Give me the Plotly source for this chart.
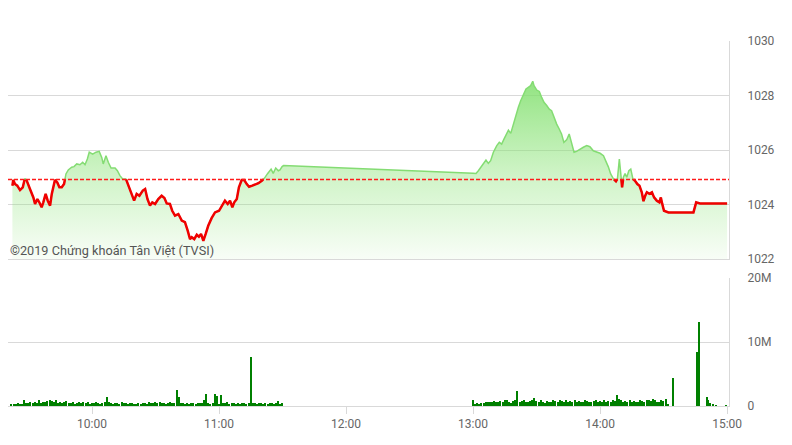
import plotly.graph_objects as go
import pandas as pd

DAY = "2019-01-02"
REF_PRICE = 1024.92

# Intraday index (minutes after 09:00, index value)
price_minutes = [
    22.4, 22.8, 23.6, 24.7, 26.0, 27.3, 28.3, 29.2, 30.7, 32.3,
    33.1, 34.2, 35.1, 36.2, 37.0, 38.1, 39.1, 40.2, 41.0, 42.5,
    43.6, 44.6, 45.7, 46.8, 47.7, 48.8, 50.4, 51.5, 52.8, 54.3,
    55.6, 56.7, 57.8, 58.7, 60.3, 61.9, 63.4, 64.6, 65.3, 66.6,
    67.7, 69.0, 70.9, 72.0, 73.2, 74.5, 76.0, 77.6, 78.8, 79.9,
    81.1, 82.4, 84.0, 85.1, 86.2, 87.4, 88.5, 89.8, 91.3, 92.9,
    94.2, 95.3, 96.8, 97.9, 99.2, 100.8, 102.4, 103.9, 105.2, 106.3,
    107.1, 108.3, 109.5, 110.5, 111.5, 112.6, 113.7, 114.9, 116.5, 118.1,
    120.0, 121.3, 122.8, 124.1, 125.2, 126.3, 127.2, 128.4, 129.4, 130.7,
    131.9, 133.1, 134.2, 135.7, 137.0, 138.6, 140.2, 141.4, 143.0, 144.6,
    145.6, 146.8, 148.0, 148.8, 149.8, 150.5,
    240.0, 241.4, 242.5, 244.1, 245.2, 246.1, 247.2, 248.3, 249.6, 251.2,
    252.4, 253.5, 254.6, 255.6, 256.7, 257.8, 259.0, 260.3, 261.4, 262.5,
    263.7, 265.0, 266.1, 267.2, 268.2, 268.8, 270.1, 271.3, 272.4, 273.5,
    274.8, 276.0, 277.1, 278.2, 279.5, 280.7, 281.8, 282.9, 284.2, 285.4,
    286.6, 287.7, 288.9, 290.5, 292.1, 293.7, 295.2, 296.8, 298.4, 300.0,
    301.6, 302.8, 303.9, 305.0, 306.3, 307.5, 308.2, 309.1, 309.8, 310.4,
    311.0, 311.8, 312.6, 313.6, 314.5, 315.5, 316.5, 317.6, 318.6, 319.7,
    320.5, 321.3, 322.1, 323.3, 324.5, 325.5, 326.8, 328.0, 328.7, 329.3,
    330.2, 332.3, 344.1, 345.4, 347.2, 360.0,
]
price_values = [
    1024.69, 1024.90, 1024.75, 1024.69, 1024.53, 1024.63, 1024.96, 1024.87, 1024.57, 1024.26,
    1024.02, 1024.20, 1024.08, 1023.90, 1024.08, 1024.39, 1024.14, 1023.96, 1024.39, 1024.90,
    1024.81, 1024.63, 1024.63, 1024.75, 1025.12, 1025.27, 1025.37, 1025.39, 1025.49, 1025.46,
    1025.55, 1025.46, 1025.67, 1025.92, 1025.85, 1025.92, 1025.95, 1025.73, 1025.49, 1025.79,
    1025.55, 1025.34, 1025.34, 1025.24, 1025.06, 1024.94, 1024.94, 1024.63, 1024.39, 1024.14,
    1024.39, 1024.32, 1024.51, 1024.57, 1024.20, 1023.96, 1024.08, 1024.02, 1024.20, 1024.32,
    1024.24, 1024.04, 1024.02, 1023.77, 1023.59, 1023.65, 1023.41, 1023.35, 1023.04, 1022.73,
    1022.80, 1022.73, 1022.89, 1022.82, 1022.92, 1022.67, 1022.92, 1023.22, 1023.50, 1023.71,
    1023.77, 1023.96, 1024.14, 1024.02, 1024.14, 1023.90, 1024.08, 1024.20, 1024.63, 1024.90,
    1024.90, 1024.75, 1024.65, 1024.69, 1024.73, 1024.78, 1024.87, 1024.96, 1025.14, 1025.30,
    1025.14, 1025.34, 1025.24, 1025.27, 1025.39, 1025.43,
    1025.15, 1025.14, 1025.24, 1025.42, 1025.55, 1025.63, 1025.51, 1025.61, 1025.92, 1026.16,
    1026.28, 1026.22, 1026.40, 1026.59, 1026.73, 1026.61, 1026.95, 1027.32, 1027.57, 1027.81,
    1028.03, 1028.24, 1028.30, 1028.36, 1028.52, 1028.36, 1028.20, 1028.15, 1027.93, 1027.75,
    1027.63, 1027.50, 1027.44, 1027.20, 1026.95, 1026.77, 1026.59, 1026.28, 1026.37, 1026.59,
    1026.22, 1025.92, 1025.95, 1026.04, 1026.10, 1026.16, 1026.12, 1025.97, 1025.92, 1025.88,
    1025.79, 1025.60, 1025.38, 1025.12, 1024.94, 1024.85, 1024.94, 1025.67, 1025.12, 1024.63,
    1025.00, 1025.14, 1025.00, 1025.24, 1025.30, 1024.94, 1024.87, 1024.75, 1024.69, 1024.45,
    1024.12, 1024.32, 1024.45, 1024.39, 1024.45, 1024.26, 1024.14, 1024.08, 1024.26, 1024.04,
    1023.77, 1023.71, 1023.71, 1024.08, 1024.04, 1024.04,
]

# Volume (millions of shares) per minute
vol_morning_start = "09:22"
vol_morning = [
    0.3, 0.25, 0.3, 0.4, 0.3, 0.35, 0.9, 0.5, 0.4, 0.6,
    0.5, 0.7, 0.4, 0.9, 0.5, 0.6, 0.7, 0.8, 0.9, 0.8,
    0.6, 0.9, 0.5, 0.7, 0.4, 0.6, 0.8, 0.5, 0.4, 0.6,
    0.3, 0.5, 0.6, 0.4, 0.7, 0.5, 0.6, 0.3, 0.5, 0.4,
    0.6, 0.5, 0.3, 0.5, 0.6, 1.4, 0.6, 0.4, 0.3, 0.4,
    0.5, 0.3, 0.6, 0.5, 0.4, 0.3, 0.4, 0.5, 0.3, 0.25,
    0.4, 0.3, 0.5, 0.4, 0.3, 0.6, 0.4, 0.5, 0.7, 0.5,
    0.6, 0.4, 0.5, 0.3, 0.4, 0.6, 0.5, 0.4, 2.5, 1.4,
    0.4, 0.5, 0.3, 0.4, 0.3, 0.5, 0.4, 0.3, 0.4, 0.5,
    0.4, 1.0, 1.8, 0.4, 0.3, 0.4, 1.9, 1.6, 0.3, 1.7,
    0.5, 0.4, 0.6, 0.3, 0.4, 0.5, 0.3, 0.4, 0.3, 0.5,
    0.4, 0.3, 0.4, 7.7, 0.5, 0.4, 0.3, 0.4, 0.5, 0.3,
    0.4, 0.3, 0.5, 0.4, 0.3, 0.4, 0.8, 0.3, 0.4,
]
vol_afternoon_start = "13:00"
vol_afternoon = [
    0.9, 0.3, 0.4, 0.3, 0.5, 0.4, 0.6, 0.7, 0.6, 0.7,
    0.8, 0.7, 0.6, 0.8, 0.7, 0.9, 1.0, 0.6, 0.5, 0.8,
    1.0, 2.4, 0.7, 0.8, 0.9, 0.6, 0.7, 0.8, 0.9, 1.2,
    0.8, 0.6, 0.9, 0.7, 0.5, 0.8, 0.7, 0.6, 0.9, 0.8,
    0.7, 1.0, 0.8, 0.6, 0.9, 0.7, 0.8, 0.6, 0.9, 0.7,
    0.8, 0.6, 0.7, 0.9, 0.8, 0.7, 0.6, 0.8, 0.9, 0.7,
    0.8, 0.7, 0.9, 0.6, 0.8, 0.7, 0.9, 0.8, 1.7, 1.1,
    0.9, 0.7, 0.8, 0.6, 0.9, 0.7, 0.8, 0.6, 0.7, 0.9,
    0.8, 0.7, 0.9, 1.0, 0.8, 1.1, 1.0, 0.7, 0.6, 0.9,
    0.8, 1.1, 0.3,
]
vol_late_times = ["14:34:35", "14:46:00", "14:46:35", "14:50:35", "14:51:15",
                  "14:52:10", "14:53:25", "14:54:40", "14:59:25"]
vol_late = [4.3, 8.5, 13.1, 1.45, 1.0, 0.4, 0.2, 0.15, 0.1]

GRID = "#d9d9d9"
TXT = "#666666"
GREEN_LINE = "#84dc73"
RED = "#f00000"
BAR = "#008000"

base = pd.Timestamp(DAY + " 09:00")


def to_ts(m):
    return None if m is None else base + pd.Timedelta(minutes=m)


px = [to_ts(m) for m in price_minutes]

# split the line where it sits below the reference price (coloured red)
rx, ry = [], []
for i in range(len(price_minutes) - 1):
    t0, p0 = price_minutes[i], price_values[i]
    t1, p1 = price_minutes[i + 1], price_values[i + 1]
    if p0 >= REF_PRICE and p1 >= REF_PRICE:
        if rx and rx[-1] is not None:
            rx.append(None)
            ry.append(None)
        continue
    at, ap, bt, bp = t0, p0, t1, p1
    if p0 > REF_PRICE:
        f = (p0 - REF_PRICE) / (p0 - p1)
        at, ap = t0 + f * (t1 - t0), REF_PRICE
    if p1 > REF_PRICE:
        f = (REF_PRICE - p0) / (p1 - p0)
        bt, bp = t0 + f * (t1 - t0), REF_PRICE
    if not rx or rx[-1] is None or rx[-1] != at:
        if rx and rx[-1] is not None:
            rx.append(None)
            ry.append(None)
        rx.append(at)
        ry.append(ap)
    rx.append(bt)
    ry.append(bp)
rxt = [to_ts(m) for m in rx]

# volume timestamps
vm = pd.date_range(pd.Timestamp(DAY + " " + vol_morning_start), periods=len(vol_morning), freq="min")
va = pd.date_range(pd.Timestamp(DAY + " " + vol_afternoon_start), periods=len(vol_afternoon), freq="min")
vl = pd.to_datetime([DAY + " " + t for t in vol_late_times])
vol_x = list(vm) + list(va) + list(vl)
vol_y = [v * 1e6 for v in vol_morning + vol_afternoon + vol_late]

# The page body has an 8px margin: figure coordinates = page coordinates - 8
OFF = 8
W, H = 776, 429


def fy(page_y):
    return 1 - (page_y - OFF) / H


PX_PER_MIN = 2.117
t_left = 60 + (OFF - 92) / PX_PER_MIN
t_right = 60 + (729 - 92) / PX_PER_MIN

fig = go.Figure()

fig.add_trace(go.Scatter(
    x=px, y=price_values, mode="lines",
    line=dict(color=GREEN_LINE, width=1.5),
    fill="tozeroy",
    fillgradient=dict(type="vertical", start=1022, stop=1028.6,
                      colorscale=[[0, "rgba(140,228,120,0.06)"],
                                  [0.45, "rgba(140,228,120,0.40)"],
                                  [1, "rgba(125,222,105,0.85)"]]),
    hoverinfo="skip", xaxis="x", yaxis="y",
))

fig.add_trace(go.Scatter(
    x=rxt, y=ry, mode="lines", connectgaps=False,
    line=dict(color=RED, width=2.5),
    xaxis="x", yaxis="y", hoverinfo="skip",
))

fig.add_trace(go.Bar(
    x=vol_x, y=vol_y, marker=dict(color=BAR, line=dict(width=0)),
    width=36000, xaxis="x2", yaxis="y2", hoverinfo="skip",
))

x_range = [to_ts(t_left), to_ts(t_right)]
dom_x = [0, (729 - OFF) / W]

fig.update_layout(
    template="none",
    width=W, height=H,
    margin=dict(l=0, r=0, t=0, b=0),
    paper_bgcolor="white", plot_bgcolor="white",
    showlegend=False, bargap=0,
    xaxis=dict(domain=dom_x, range=x_range, type="date", anchor="y",
               showticklabels=False, showgrid=False, zeroline=False,
               showline=True, linecolor=GRID, linewidth=1, ticks="",
               automargin=False),
    yaxis=dict(domain=[fy(259), fy(41)], range=[1022, 1030], dtick=2,
               side="right", anchor="x", showgrid=True, gridcolor=GRID,
               zeroline=False, showline=True, linecolor=GRID, ticks="",
               ticklabelstandoff=15,
               tickfont=dict(family="Roboto", size=12, color=TXT),
               automargin=False),
    xaxis2=dict(domain=dom_x, range=x_range, type="date", anchor="y2",
                showgrid=False, zeroline=False, showline=True, linecolor=GRID,
                ticks="outside", ticklen=7, tickcolor=GRID,
                tick0=DAY + " 10:00", dtick=3600000, tickformat="%H:%M",
                tickfont=dict(family="Roboto", size=12, color=TXT),
                automargin=False),
    yaxis2=dict(domain=[fy(406), fy(278)], range=[0, 20e6], dtick=10e6,
                tickformat="~s", side="right", anchor="x2", showgrid=True,
                gridcolor=GRID, zeroline=False, showline=True, linecolor=GRID,
                ticks="", ticklabelstandoff=15,
                tickfont=dict(family="Roboto", size=12, color=TXT),
                automargin=False),
    shapes=[dict(
        type="line", xref="x", yref="y", layer="above",
        x0=x_range[0], x1=x_range[1], y0=REF_PRICE, y1=REF_PRICE,
        line=dict(color="#ff1a1a", width=1.4, dash="4px,2px"),
    )],
    annotations=[dict(
        text="©2019 Chứng khoán Tân Việt (TVSI)", xref="paper", yref="paper",
        x=0, y=fy(250), xanchor="left", yanchor="middle",
        showarrow=False, font=dict(family="Roboto", size=12.7, color="#555555"),
    )],
)

fig.write_html("out.html")
